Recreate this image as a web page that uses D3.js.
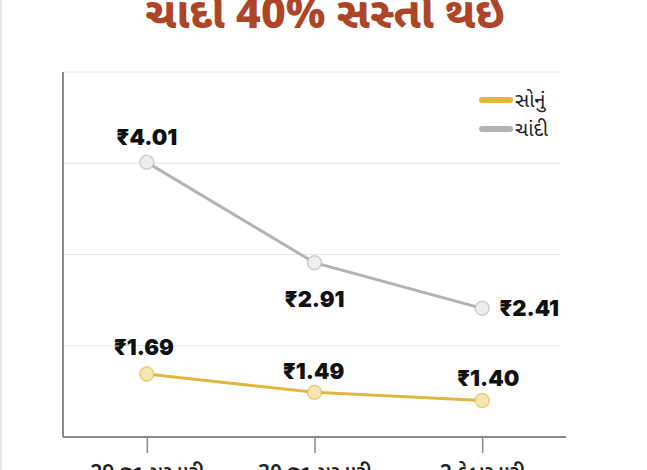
<!DOCTYPE html>
<html>
<head>
<meta charset="utf-8">
<script src="https://cdn.jsdelivr.net/npm/d3@7"></script>
<style>
  body { margin: 0; background: #fff; }
  svg { display: block; }
  .val { font-family: Inter, Roboto, "Noto Sans", sans-serif; font-weight: 900; font-size: 22px; fill: #111; }
  .guj { font-family: "Noto Sans Gujarati", "Noto Sans", sans-serif; }
</style>
</head>
<body>
<div class="container"></div>
<script>
var svgWidth = 647;
var svgHeight = 470;

// data
var dates = ["29 જાન્યુઆરી", "30 જાન્યુઆરી", "2 ફેબ્રુઆરી"];
var seriesNames = ["સોનું", "ચાંદી"];
var gold = [1.69, 1.49, 1.40];
var silver = [4.01, 2.91, 2.41];
var yTicks = [2, 3, 4, 5];
var title = "ચાંદી 40% સસ્તી થઈ";

var goldColor = "#e2b63c";
var silverColor = "#b3b3b3";

var svg = d3.select(".container")
    .append("svg")
    .attr("width", svgWidth)
    .attr("height", svgHeight);

// plot area
var plot = {left: 63, right: 566, top: 72, bottom: 437};

var x = d3.scalePoint()
    .domain(dates)
    .range([plot.left, plot.right])
    .padding(0.5);

var y = d3.scaleLinear()
    .domain([1, 5])
    .range([plot.bottom, plot.top]);

// faint frame edge on the left
svg.append("line")
    .attr("x1", 1).attr("x2", 1)
    .attr("y1", 0).attr("y2", svgHeight)
    .attr("stroke", "#e4e4e4")
    .attr("stroke-width", 2);

// title (cut off at top in the original)
svg.append("text")
    .attr("class", "guj")
    .attr("x", 325)
    .attr("y", 28)
    .attr("text-anchor", "middle")
    .style("font-size", "43px")
    .style("font-weight", "800")
    .style("fill", "#ad4528")
    .text(title);

// gridlines
svg.append("g")
    .selectAll("line")
    .data(yTicks)
    .enter()
    .append("line")
    .attr("x1", plot.left)
    .attr("x2", 560)
    .attr("y1", d => y(d))
    .attr("y2", d => y(d))
    .attr("stroke", "#e6e6e6")
    .attr("stroke-width", 1);

// left axis line
svg.append("line")
    .attr("x1", plot.left).attr("x2", plot.left)
    .attr("y1", plot.top).attr("y2", plot.bottom)
    .attr("stroke", "#8a8a8a")
    .attr("stroke-width", 2);

// bottom axis
var xAxis = svg.append("g")
    .attr("transform", `translate(0, ${plot.bottom})`)
    .call(d3.axisBottom(x).tickSize(16).tickPadding(12));

xAxis.select(".domain")
    .attr("d", `M${plot.left},0H${plot.right}`)
    .attr("stroke", "#8a8a8a")
    .attr("stroke-width", 2);
xAxis.selectAll(".tick line")
    .attr("stroke", "#8a8a8a")
    .attr("stroke-width", 1.5);
xAxis.selectAll(".tick text")
    .attr("class", "guj")
    .style("font-size", "21px")
    .style("font-weight", "600")
    .attr("fill", "#222");

var line = d3.line()
    .x((d, i) => x(dates[i]))
    .y(d => y(d));

function drawSeries(values, color, fill) {
    svg.append("path")
        .datum(values)
        .attr("d", line)
        .attr("fill", "none")
        .attr("stroke", color)
        .attr("stroke-width", 3);

    svg.append("g")
        .selectAll("circle")
        .data(values)
        .enter()
        .append("circle")
        .attr("cx", (d, i) => x(dates[i]))
        .attr("cy", d => y(d))
        .attr("r", 7)
        .attr("fill", fill)
        .attr("stroke", color)
        .attr("stroke-opacity", 0.6)
        .attr("stroke-width", 1.5);
}

drawSeries(silver, silverColor, "#eeeeee");
drawSeries(gold, goldColor, "#f6e6b4");

// value labels, placed by hand like the original
var silverLabelPos = [
    {dx: 0, dy: -17, anchor: "middle"},
    {dx: 0, dy: 44, anchor: "middle"},
    {dx: 17, dy: 8, anchor: "start"}
];
var goldLabelPos = [
    {dx: -3, dy: -19, anchor: "middle"},
    {dx: -1, dy: -13, anchor: "middle"},
    {dx: 6, dy: -15, anchor: "middle"}
];

function drawLabels(values, pos) {
    svg.append("g")
        .selectAll("text")
        .data(values)
        .enter()
        .append("text")
        .attr("class", "val")
        .attr("x", (d, i) => x(dates[i]) + pos[i].dx)
        .attr("y", (d, i) => y(d) + pos[i].dy)
        .attr("text-anchor", (d, i) => pos[i].anchor)
        .text(d => "₹" + d.toFixed(2));
}

drawLabels(silver, silverLabelPos);
drawLabels(gold, goldLabelPos);

// legend
var legend = svg.append("g")
    .attr("transform", "translate(482, 100)");

legend.selectAll("line")
    .data(seriesNames)
    .enter()
    .append("line")
    .attr("x1", 0)
    .attr("x2", 28)
    .attr("y1", (d, i) => i * 29)
    .attr("y2", (d, i) => i * 29)
    .attr("stroke", (d, i) => i == 0 ? goldColor : silverColor)
    .attr("stroke-width", 6)
    .attr("stroke-linecap", "round");

legend.selectAll("text")
    .data(seriesNames)
    .enter()
    .append("text")
    .attr("class", "guj")
    .attr("x", 33)
    .attr("y", (d, i) => i * 29 + 7)
    .style("font-size", "20px")
    .style("fill", "#222")
    .text(d => d);
</script>
</body>
</html>
